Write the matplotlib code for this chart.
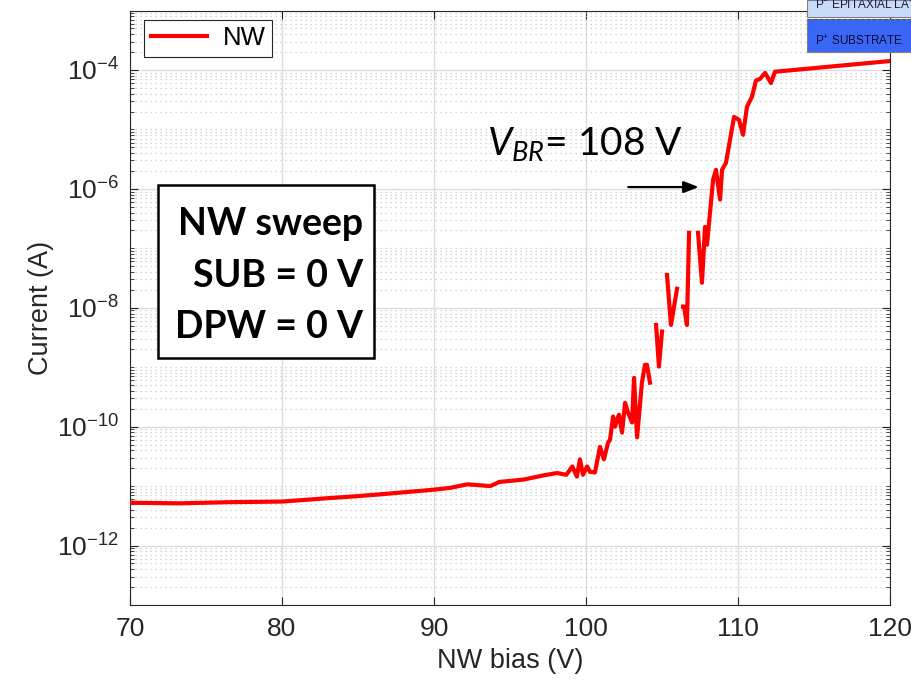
import numpy as np
import matplotlib
matplotlib.use("Agg")
import matplotlib.pyplot as plt
from matplotlib.ticker import NullFormatter, FixedLocator
from matplotlib.patches import Rectangle

# NW bias (V) and log10 of current (A); nan = gap in the trace
bias = [70.0, 73.3, 76.6, 80.0, 83.2, 84.9, 86.4, 88.2, 90.0, 91.05, 92.2, 93.7,
        94.3, 95.9, 97.2, 98.1, 98.7, 99.1, 99.4, 99.6, 99.8, 100.07, 100.26,
        100.59, 100.92, 101.18, 101.45, 101.58, 101.78, 101.91, 102.04, 102.17,
        102.37, 102.57, 102.76, 103.03, 103.16, 103.36, 103.68, 103.88, 104.01,
        104.21, 104.4,
        104.61, 104.80, 105.00, 105.15,
        105.33, 105.59, 105.99, 106.2,
        106.38, 106.45, 106.64, 106.78, 107.1,
        107.37, 107.63, 107.83, 107.96, 108.36, 108.55, 108.82, 108.95, 109.21,
        109.74, 110.07, 110.33, 110.59, 110.92, 111.18, 111.45, 111.78, 112.17,
        112.43, 120.0]
log_current = [-11.28, -11.29, -11.27, -11.26, -11.20, -11.17, -11.14, -11.10,
               -11.06, -11.03, -10.97, -11.00, -10.93, -10.89, -10.82, -10.78,
               -10.81, -10.67, -10.84, -10.55, -10.81, -10.67, -10.76, -10.77,
               -10.34, -10.55, -10.27, -10.22, -9.83, -10.00, -9.88, -9.80,
               -10.10, -9.60, -9.76, -9.93, -9.18, -10.18, -9.26, -8.96, -8.96,
               -9.26, np.nan,
               -8.29, -8.99, -8.40, np.nan,
               -7.45, -8.29, -7.68, np.nan,
               -7.98, -7.98, -8.29, -6.74, np.nan,
               -6.74, -7.58, -6.64, -6.94, -5.85, -5.68, -6.18, -5.68, -5.56,
               -4.79, -4.84, -5.09, -4.62, -4.45, -4.18, -4.15, -4.05, -4.22,
               -4.03, -3.85]

box_lines = ['NW sweep', 'SUB = 0 V', 'DPW = 0 V']

current = 10.0 ** np.array(log_current)

plt.rcParams['font.family'] = ['Liberation Sans', 'DejaVu Sans']
plt.rcParams['axes.unicode_minus'] = False
plt.rcParams['mathtext.fontset'] = 'custom'
plt.rcParams['mathtext.rm'] = 'Lato'
plt.rcParams['mathtext.it'] = 'Lato:italic'
axis_col = '#262626'

fig = plt.figure(figsize=(9.12, 6.84), dpi=100)
ax = fig.add_axes([130 / 912, 79 / 684, 760 / 912, 594.5 / 684])

ax.semilogy(bias, current, color='red', lw=3.0, label='NW', zorder=3)

ax.set_xlim(70, 120)
ax.set_ylim(1e-13, 1e-3)
ax.set_xticks([70, 80, 90, 100, 110, 120])
ax.yaxis.set_major_locator(FixedLocator([1e-12, 1e-10, 1e-8, 1e-6, 1e-4]))
ax.set_yticklabels([r'$\mathregular{10^{-12}}$', r'$\mathregular{10^{-10}}$',
                    r'$\mathregular{10^{-8}}$', r'$\mathregular{10^{-6}}$',
                    r'$\mathregular{10^{-4}}$'])
minor = [m * 10.0 ** k for k in range(-13, -3) for m in range(1, 10)
         if not (m == 1 and k % 2 == 0)]
ax.yaxis.set_minor_locator(FixedLocator(minor))
ax.yaxis.set_minor_formatter(NullFormatter())

ax.grid(True, which='major', color='#dcdcdc', lw=1.0, zorder=0)
ax.grid(True, which='minor', axis='y', color='#c8c8c8', lw=0.9,
        linestyle=(0, (1, 3)), zorder=0)

ax.tick_params(which='both', direction='in', top=True, right=True,
               colors=axis_col, labelsize=19)
ax.tick_params(axis='x', pad=9)
ax.tick_params(axis='y', pad=8)
ax.tick_params(which='major', length=6)
ax.tick_params(which='minor', length=3)
for s in ax.spines.values():
    s.set_color(axis_col)
    s.set_linewidth(0.8)

ax.set_xlabel('NW bias (V)', fontsize=19.5, color=axis_col, labelpad=5)
ax.set_ylabel('Current (A)', fontsize=19.5, color=axis_col, labelpad=2)

leg = ax.legend(loc='upper left', bbox_to_anchor=(0.019, 0.984), fontsize=18.5,
                fancybox=False, framealpha=1, edgecolor=axis_col,
                handlelength=2.2, borderpad=0.25, handletextpad=0.6,
                borderaxespad=0)
leg.get_frame().set_linewidth(0.8)

# annotation box
ax.add_patch(Rectangle((0.0368, 0.4155), 0.2842, 0.291, transform=ax.transAxes,
                       facecolor='white', edgecolor='black', lw=1.8, zorder=5))
for line, yb in zip(box_lines, [0.6224, 0.5349, 0.4491]):
    ax.text(0.3066, yb, line, transform=ax.transAxes, ha='right', va='baseline',
            fontsize=27, fontweight='bold', family='Lato', zorder=6)

ax.text(93.5, 10 ** -5.43, r'$V_{BR}$= 108 V', fontsize=28, family='Lato',
        ha='left', va='baseline', zorder=5)
ax.annotate('', xy=(107.6, 10 ** -5.97), xytext=(102.6, 10 ** -5.97),
            arrowprops=dict(arrowstyle='-|>,head_length=0.9,head_width=0.35',
                            color='black', lw=1.6), zorder=5)

# cropped cross-section inset in the top right corner
fig.patches.append(Rectangle((807 / 912, 1 - 17 / 684), 105 / 912, 17 / 684,
                             transform=fig.transFigure, facecolor='#c9dcf7',
                             edgecolor='#7f7f7f', lw=0.8, zorder=10))
fig.patches.append(Rectangle((807 / 912, 1 - 52 / 684), 105 / 912, 33 / 684,
                             transform=fig.transFigure, facecolor='#3a66f5',
                             edgecolor='#7f7f7f', lw=0.8, zorder=10))
fig.lines.append(plt.Line2D([807 / 912, 1], [1 - 19 / 684, 1 - 19 / 684],
                            transform=fig.transFigure, color='#555555',
                            lw=0.8, ls='--', zorder=11))
fig.text(815 / 912, 1 - 7.5 / 684, 'P$^{-}$ EPITAXIAL LAYER', fontsize=8.5,
         color='#1a1a40', va='baseline', ha='left', zorder=12)
fig.text(815 / 912, 1 - 41 / 684, 'P$^{+}$ SUBSTRATE', fontsize=8.5,
         color='#0a0a30', va='center', ha='left', zorder=12)

fig.savefig('out.png', dpi=100)
